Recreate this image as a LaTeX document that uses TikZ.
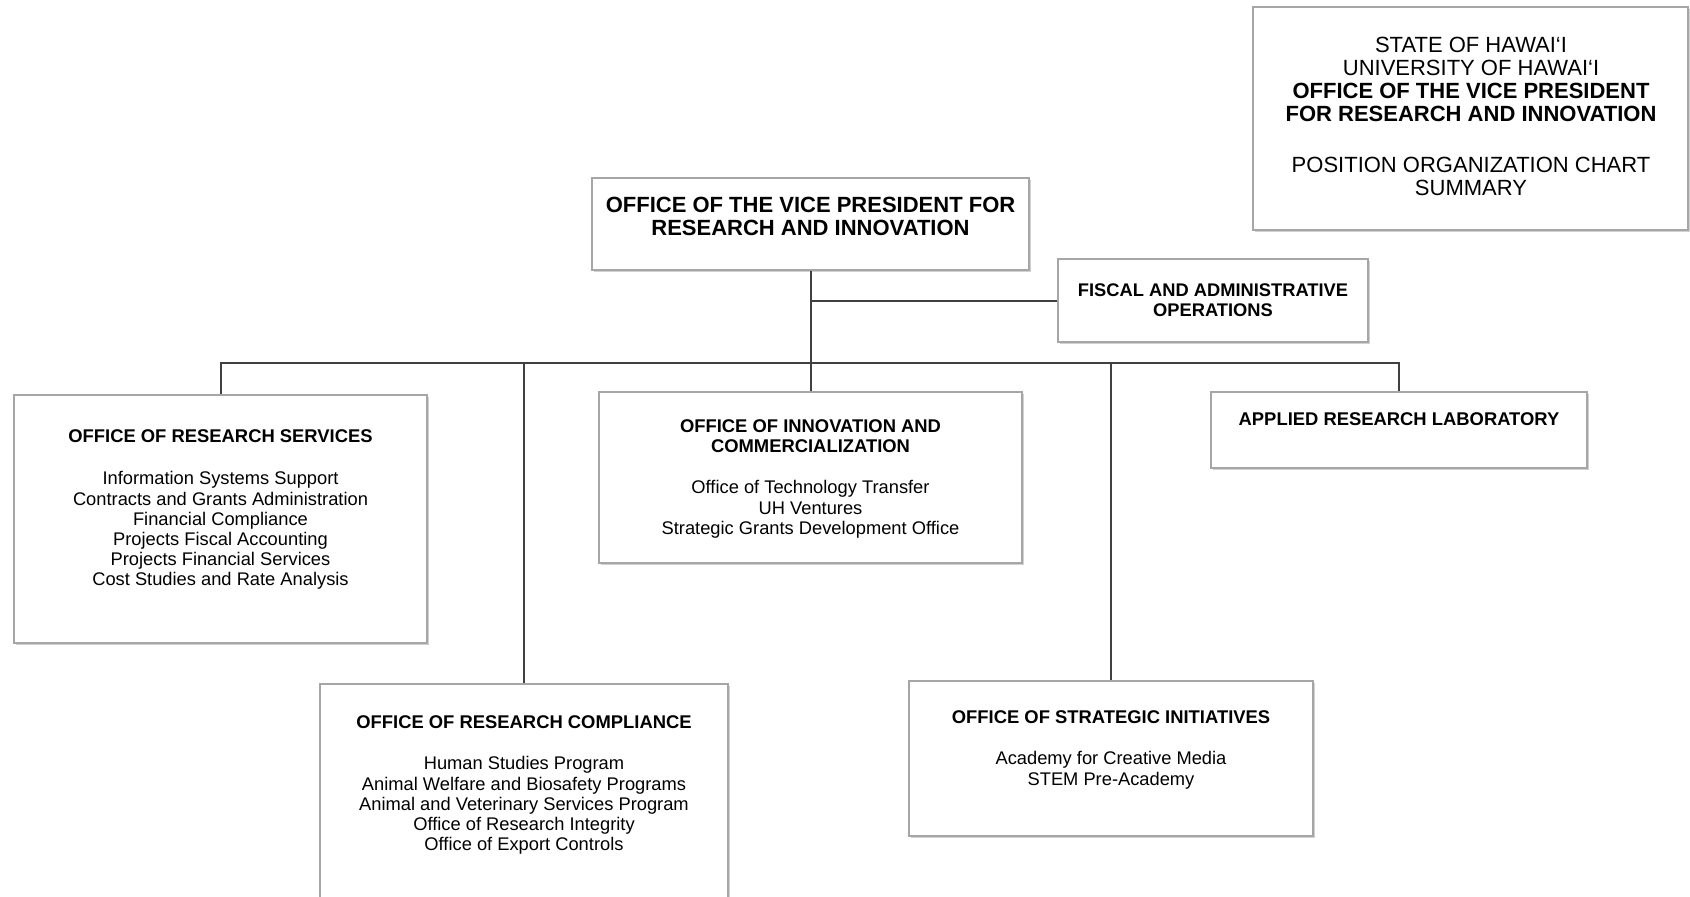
\documentclass[tikz,border=0pt]{standalone}
\usepackage{fontspec}
\setmainfont{Liberation Sans}
\usetikzlibrary{shadows}
\definecolor{boxline}{HTML}{A6A6A6}
\definecolor{conncol}{HTML}{404040}
\tikzset{
  orgbox/.style={draw=boxline, line width=1.3pt, fill=white, inner sep=0pt, rectangle,
    drop shadow={shadow xshift=1.5pt, shadow yshift=-1.5pt, fill=black, opacity=0.18}},
  ttl/.style={font=\bfseries\fontsize{18.4}{19.5}\selectfont, align=center, inner sep=0pt, anchor=north},
  itm/.style={font=\fontsize{18.3}{20.2}\selectfont, align=center, inner sep=0pt, anchor=north},
  bigtxt/.style={font=\fontsize{22}{23}\selectfont, align=center, inner sep=0pt, anchor=north},
  conn/.style={draw=conncol, line width=2pt}
}
\begin{document}
\begin{tikzpicture}[x=1pt,y=-1pt]
\fill[white] (0,0) rectangle (1690,897);
\useasboundingbox (0,0) rectangle (1690,897);

% boxes
\node[orgbox, minimum width=435pt, minimum height=223pt] (hdr) at (1470.5,118.5) {};
\node[orgbox, minimum width=437pt, minimum height=92pt] (vp) at (810.5,224) {};
\node[orgbox, minimum width=310pt, minimum height=83pt] (fis) at (1213,300.5) {};
\node[orgbox, minimum width=413pt, minimum height=248pt] (ors) at (220.5,519) {};
\node[orgbox, minimum width=423pt, minimum height=171pt] (oic) at (810.5,477.5) {};
\node[orgbox, minimum width=376pt, minimum height=76pt] (arl) at (1399,430) {};
\node[orgbox, minimum width=408pt, minimum height=246pt] (orc) at (524,807) {};
\node[orgbox, minimum width=404pt, minimum height=155pt] (osi) at (1111,758.5) {};

% texts
\node[bigtxt] (hdrt) at (1471,37) {STATE OF HAWAI‘I\\UNIVERSITY OF HAWAI‘I\\\textbf{OFFICE OF THE VICE PRESIDENT}\\\textbf{FOR RESEARCH AND INNOVATION}\\[28pt]POSITION ORGANIZATION CHART\\SUMMARY};
\node[bigtxt, font=\bfseries\fontsize{22}{23}\selectfont] (vpt) at (810.5,197) {OFFICE OF THE VICE PRESIDENT FOR\\RESEARCH AND INNOVATION};
\node[ttl, font=\bfseries\fontsize{18.3}{20}\selectfont] (fist) at (1213,283.5) {FISCAL AND ADMINISTRATIVE\\OPERATIONS};

\node[ttl] (orst) at (220.5,429.5) {OFFICE OF RESEARCH SERVICES};
\node[itm] (orsi) at (220.5,471.5) {Information Systems Support\\Contracts and Grants Administration\\Financial Compliance\\Projects Fiscal Accounting\\Projects Financial Services\\Cost Studies and Rate Analysis};

\node[ttl] (oict) at (810.5,419.5) {OFFICE OF INNOVATION AND\\COMMERCIALIZATION};
\node[itm] (oici) at (810.5,480.5) {Office of Technology Transfer\\UH Ventures\\Strategic Grants Development Office};

\node[ttl] (arlt) at (1399,412.5) {APPLIED RESEARCH LABORATORY};

\node[ttl] (orct) at (524,715.5) {OFFICE OF RESEARCH COMPLIANCE};
\node[itm] (orci) at (524,756.5) {Human Studies Program\\Animal Welfare and Biosafety Programs\\Animal and Veterinary Services Program\\Office of Research Integrity\\Office of Export Controls};

\node[ttl] (osit) at (1111,710.5) {OFFICE OF STRATEGIC INITIATIVES};
\node[itm] (osii) at (1111,751.5) {Academy for Creative Media\\STEM Pre-Academy};

% connectors
\coordinate (bus) at (810.5,363);
\draw[conn] (vp.south) -- (vp.south |- bus);
\draw[conn] (fis.west) -- (fis.west -| vp.south);
\draw[conn] (ors.north) -- (ors.north |- bus) -- (arl.north |- bus) -- (arl.north);
\draw[conn] (orc.north) -- (orc.north |- bus);
\draw[conn] (oic.north) -- (oic.north |- bus);
\draw[conn] (osi.north) -- (osi.north |- bus);
\end{tikzpicture}
\end{document}
